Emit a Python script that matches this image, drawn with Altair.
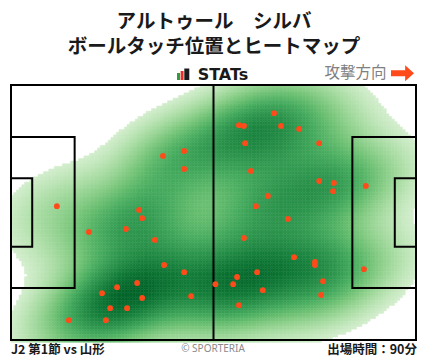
import altair as alt
import numpy as np
import pandas as pd

alt.data_transformers.disable_max_rows()

# Ball-touch positions in metres (x: 0-105 left->right, y: 0-68 top->bottom)
touch_x = [11.9, 20.2, 15.0, 23.6, 25.7, 24.6, 27.5, 30.1, 32.7, 34.0,
           33.2, 34.0, 29.8, 37.3, 39.7, 39.4, 44.9, 44.9, 44.9, 46.7,
           53.0, 57.6, 58.6, 59.1, 60.4, 59.1, 60.4, 60.7, 62.2, 63.5,
           63.8, 65.3, 66.6, 68.2, 70.0, 74.7, 79.9, 71.8, 73.4, 78.8,
           78.8, 79.9, 83.7, 83.5, 80.9, 80.4, 92.0, 91.5]
touch_y = [32.3, 39.2, 62.7, 55.5, 59.5, 62.7, 53.9, 59.5, 52.8, 56.8,
           33.3, 35.5, 38.4, 41.3, 48.0, 18.9, 17.6, 22.4, 49.9, 56.3,
           53.1, 53.1, 51.2, 58.7, 40.8, 10.7, 10.9, 15.5, 22.9, 32.3,
           49.9, 54.7, 29.6, 7.5, 10.9, 11.7, 15.5, 35.7, 45.9, 47.2,
           48.0, 25.6, 26.1, 28.3, 52.3, 56.0, 26.9, 49.1]

title_lines = ["アルトゥール　シルバ", "ボールタッチ位置とヒートマップ"]
footer_left = "J2 第1節 vs 山形"
footer_mid = "© SPORTERIA"
footer_right = "出場時間：90分"
direction_label = "攻撃方向"

# pitch markings (metres)
box_x0 = [0, 0, 0, 88.5, 99.5]
box_x1 = [105, 16.5, 5.5, 105, 105]
box_y0 = [0, 13.84, 24.84, 13.84, 24.84]
box_y1 = [68, 54.16, 43.16, 54.16, 43.16]

# ---- kernel density of the touches ----
pts = np.vstack([touch_x, touch_y])
n = pts.shape[1]
factor = n ** (-1 / 6) * 0.85
cov = np.cov(pts) * factor ** 2
inv = np.linalg.inv(cov)
step = 0.7
gx, gy = np.meshgrid(np.arange(0, 105, step) + step / 2, np.arange(0, 68, step) + step / 2)
dx = gx[..., None] - pts[0]
dy = gy[..., None] - pts[1]
q = inv[0, 0] * dx * dx + 2 * inv[0, 1] * dx * dy + inv[1, 1] * dy * dy
dens = np.exp(-0.5 * q).sum(-1).ravel()
dens = dens / dens.max()
thr = 0.05
heat = pd.DataFrame({"gx": gx.ravel(), "gy": gy.ravel(), "d": np.round(dens, 4)})
heat = heat[heat["d"] >= thr]

X = alt.Scale(domain=[0, 105], nice=False, zero=False)
Y = alt.Scale(domain=[0, 68], nice=False, zero=False, reverse=True)
C = alt.Scale(type="pow", exponent=0.55, scheme="greens", domain=[thr, 1.0])

heat_layer = alt.Chart(heat).transform_calculate(
    x0=f"datum.gx - {step/2}", x1=f"datum.gx + {step/2}",
    y0=f"datum.gy - {step/2}", y1=f"datum.gy + {step/2}",
).mark_rect(strokeWidth=0.5).encode(
    x=alt.X("x0:Q", scale=X, axis=None),
    x2="x1:Q",
    y=alt.Y("y0:Q", scale=Y, axis=None),
    y2="y1:Q",
    color=alt.Color("d:Q", scale=C, legend=None),
    stroke=alt.Stroke("d:Q", scale=C, legend=None),
)

boxes = pd.DataFrame({"x0": box_x0, "x1": box_x1, "y0": box_y0, "y1": box_y1})
box_layer = alt.Chart(boxes).mark_rect(fillOpacity=0, stroke="black", strokeWidth=2).encode(
    x=alt.X("x0:Q", scale=X, axis=None), x2="x1:Q",
    y=alt.Y("y0:Q", scale=Y, axis=None), y2="y1:Q",
)
half_layer = alt.Chart(pd.DataFrame({"x": [52.5], "y0": [0], "y1": [68]})).mark_rule(
    color="black", strokeWidth=2
).encode(x=alt.X("x:Q", scale=X, axis=None), y=alt.Y("y0:Q", scale=Y, axis=None), y2="y1:Q")

dots = pd.DataFrame({"x": touch_x, "y": touch_y})
dot_layer = alt.Chart(dots).mark_circle(size=34, opacity=1, color="#ff4a1a").encode(
    x=alt.X("x:Q", scale=X, axis=None), y=alt.Y("y:Q", scale=Y, axis=None)
)

OX, OY = 11, 85


def label(text, px, py, size, color="#1a1a1a", weight="bold", align="center",
          font="Noto Sans CJK JP"):
    return alt.Chart(pd.DataFrame({"t": [text]})).mark_text(
        fontSize=size, font=font, fontWeight=weight, color=color,
        align=align, baseline="middle",
    ).encode(x=alt.value(px - OX), y=alt.value(py - OY), text="t:N")


def box(x0, x1, y0, y1, color):
    return alt.Chart(pd.DataFrame({"a": [0]})).mark_rect(color=color).encode(
        x=alt.value(x0 - OX), x2=alt.value(x1 - OX),
        y=alt.value(y0 - OY), y2=alt.value(y1 - OY),
    )


arrow_path = "M-1,-0.26 L0.23,-0.26 L0.23,-0.7 L1,0 L0.23,0.7 L0.23,0.26 L-1,0.26 Z"
arrow = alt.Chart(pd.DataFrame({"a": [0]})).mark_point(
    shape=arrow_path, filled=True, color="#ff4a1a", opacity=1, size=529, strokeWidth=0
).encode(x=alt.value(402.5 - OX), y=alt.value(73.3 - OY))

layers = [
    heat_layer, box_layer, half_layer, dot_layer,
    label(title_lines[0], 214, 21.5, 19.5),
    label(title_lines[1], 214, 46.5, 19.5),
    box(177, 180, 73, 80, "#2e9e3e"),
    box(180.6, 183.6, 71, 80, "#e8302a"),
    box(184.3, 189.3, 68.5, 80, "#1a1a1a"),
    label("STATs", 223, 74.5, 16, font="DejaVu Sans"),
    label(direction_label, 355.5, 73, 15.5, color="#808080", weight="normal"),
    arrow,
    label(footer_left, 11, 349.5, 12.5, align="left"),
    label(footer_mid, 213, 348.5, 10, color="#8a8a8a", weight="normal", font="Noto Sans"),
    label(footer_right, 417, 349.5, 12.5, align="right"),
]

chart = alt.layer(*layers).properties(
    width=405, height=255,
    autosize=alt.AutoSizeParams(type="none"),
    padding={"left": 11, "top": 85, "right": 12, "bottom": 19},
    background="white",
).configure_view(strokeWidth=0)

chart.save("out.html", embed_options={"renderer": "svg", "actions": False})
